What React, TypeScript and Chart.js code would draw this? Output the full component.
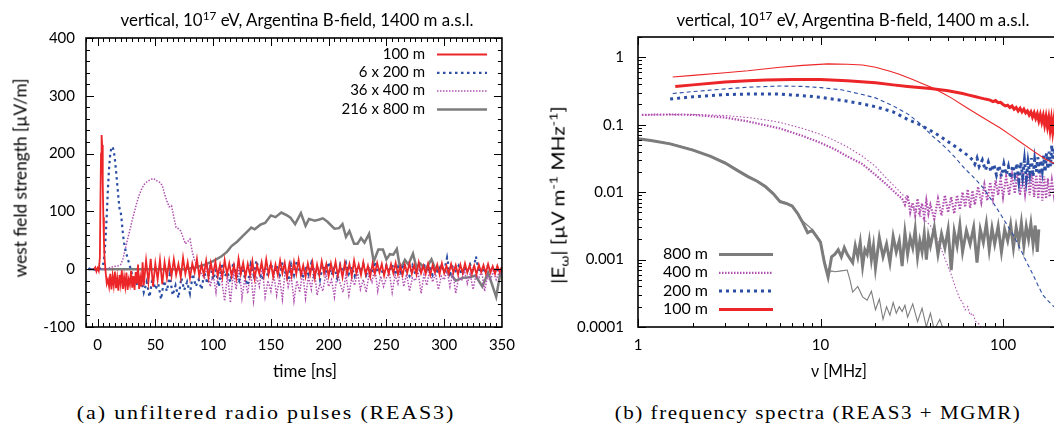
import React, { useEffect, useLayoutEffect, useRef } from "react";
import { Chart, registerables } from "chart.js";
Chart.register(...registerables);

const FONT = "Lato";
const RED = "#ec2628";
const BLUE = "#2c4fa5";
const MAGENTA = "#b050b0";
const GREY = "#7c7c7c";

// ---------------- panel (a): radio pulses ----------------
const timeTicks = [0, 50, 100, 150, 200, 250, 300, 350];
const fieldTicks = [-100, 0, 100, 200, 300, 400];
const pulseLabels = ["100 m", "6 x 200 m", "36 x 400 m", "216 x 800 m"];

const red100T = [-3, -2, -1, 0, 1, 2, 2.5, 3, 3.5, 4, 4.5, 5, 5.5, 6, 7, 8, 9,
  10, 11, 12, 13, 14, 15, 16, 17, 18, 19, 20, 21, 22, 23, 24, 25, 26, 27, 28, 29, 30, 31, 32, 33, 34, 35, 36, 37, 38, 39, 40,
  42, 44, 46, 48, 50, 52, 54, 56, 58, 60,
  62, 64, 66, 68, 70, 72, 74, 76, 78, 80, 82, 84, 86, 88, 90, 92, 94, 96, 98, 100,
  102, 104, 106, 108, 110, 112, 114, 116, 118, 120, 122, 124, 126, 128, 130, 132, 134, 136, 138, 140, 142, 144, 146, 148, 150,
  152, 154, 156, 158, 160, 162, 164, 166, 168, 170, 172, 174, 176, 178, 180, 182, 184, 186, 188, 190, 192, 194, 196, 198, 200,
  202, 204, 206, 208, 210, 212, 214, 216, 218, 220, 222, 224, 226, 228, 230, 232, 234, 236, 238, 240, 242, 244, 246, 248, 250,
  252, 254, 256, 258, 260, 262, 264, 266, 268, 270, 272, 274, 276, 278, 280, 282, 284, 286, 288, 290, 292, 294, 296, 298, 300,
  302, 304, 306, 308, 310, 312, 314, 316, 318, 320, 322, 324, 326, 328, 330, 332, 334, 336, 338, 340, 342, 344, 346, 348, 350];
const red100V = [0, 3, -4, 2, -3, 20, 120, 200, 232, 215, 150, 90, 50, 20, -5, -25, -18,
  -30, -8, -35, -12, -28, -4, -33, -15, -37, -10, -26, -2, -34, -14, -30, -6, -36, -18, -27, -3, -32, -12, -36, -5, -25, 8, -34, -15, -30, 12, -28,
  15, -22, 18, -30, 10, -18, 16, -26, 12, -15,
  14, -12, 17, -10, 9, -14, 20, -8, 12, -15, 10, -6, 18, -12, 8, -10, 15, -14, 11, -9,
  13, -11, 8, -14, 16, -9, 10, -12, 7, -15, 18, -8, 11, -13, 9, -10, 14, -16, 7, -8, 12, -11, 17, -9, 10,
  -13, 8, -10, 15, -7, 11, -14, 9, -12, 13, -8, 16, -10, 7, -13, 10, -9, 12, -15, 8, -11, 14, -7, 9, -12,
  10, -9, 13, -11, 7, -14, 11, -8, 9, -12, 15, -7, 8, -10, 12, -9, 6, -13, 10, -8, 11, -6, 9, -11, 7,
  -8, 9, -7, 11, -9, 6, -10, 8, -6, 10, -8, 7, -9, 12, -7, 6, -8, 9, -10, 7, -6, 8, -9, 10, -7,
  6, -8, 9, -6, 7, -9, 8, -7, 10, -6, 7, -8, 6, -9, 8, -5, 7, -7, 9, -6, 5, -8, 6, -5, 4];

// shared late-time sample grid (ns)
const lateT = [92.5, 95, 97.5, 100, 102.5, 105, 107.5, 110, 112.5, 115, 117.5, 120, 122.5, 125, 127.5, 130, 132.5, 135, 137.5, 140, 142.5, 145, 147.5, 150,
  152.5, 155, 157.5, 160, 162.5, 165, 167.5, 170, 172.5, 175, 177.5, 180, 182.5, 185, 187.5, 190, 192.5, 195, 197.5, 200,
  202.5, 205, 207.5, 210, 212.5, 215, 217.5, 220, 222.5, 225, 227.5, 230, 232.5, 235, 237.5, 240, 242.5, 245, 247.5, 250,
  252.5, 255, 257.5, 260, 262.5, 265, 267.5, 270, 272.5, 275, 277.5, 280, 282.5, 285, 287.5, 290, 292.5, 295, 297.5, 300,
  302.5, 305, 307.5, 310, 312.5, 315, 317.5, 320, 322.5, 325, 327.5, 330, 332.5, 335, 337.5, 340, 342.5, 345, 347.5, 350];

const blue200T = [-8, -7, -6, -5, -4, -3, -2, -1, 0, 1, 2, 3, 4, 5, 6, 7, 8, 9, 10, 11, 12, 13, 14, 15, 16, 17, 18, 19, 20,
  21, 22, 23, 24, 25, 26, 27, 28, 29, 30,
  32.5, 35, 37.5, 40, 42.5, 45, 47.5, 50, 52.5, 55, 57.5, 60, 62.5, 65, 67.5, 70, 72.5, 75, 77.5, 80, 82.5, 85, 87.5, 90,
  ...lateT];
const blue200V = [0, 1, -1, 0, 1, 0, -1, 0, 1, 0, 2, 3, 5,
  10, 25, 55, 95, 140, 175, 200, 210, 212, 205, 190, 170, 148, 125, 105, 100, 82, 60, 45, 35, 26, 20, 12, 5, -2, -10,
  -18, -30, -12, -40, -22, -48, -15, -35, -25, -52, -20, -38, -10, -45, -28, -50, -15, -36, -22, -42, -8, -30, -18, -35,
  -5, -25, 8, -18, -2, -30, 10, -12, -5, -22, 12, -8, -20, 5, -15, -28, 8, -10, 15, -6, -18, 3, -12, 10,
  -8, 6, -14, 12, -5, -20, 8, -10, 15, -4, -16, 5, -9, 10, -12, 4, -18, 7, -6, 12, -10, 3, -15, 8, -5, 11, -8, 4, -12, 6, -3, 9, -10, 5, -7, 13, -6, 2, -9, 7,
  -5, 8, -10, 4, -6, 10, -4, -12, 6, -8, 3, -5, 9, -7, 5, -10, 2, -6, 7, -4, 20, -8, 4, -3, 6, -9, 3, -5, 8, -4, 22, -6, 3, -7, 5, -2, 4, -6, 2, -3];

const mag400T = [-8, -6, -4, -2, 0, 2, 4, 6, 8, 10, 12, 14,
  16, 18, 20, 22, 24, 26, 28, 30, 32, 34, 36, 38, 40, 42, 44, 46, 48, 50, 52, 54, 56, 58, 60, 62, 64, 66, 68, 70, 72, 74, 76, 78, 80, 82, 84, 86, 88, 90,
  ...lateT];
const mag400V = [0, 1, 0, -1, 0, 1, 0, 0, 1, 2, 3, 5,
  5, 6, 8, 18, 35, 52, 68, 85, 100, 115, 128, 138, 146, 150, 153, 155, 157, 155, 152, 150, 145, 130, 118, 108, 110, 90, 72, 70, 66, 55, 44, 48, 52, 30, 15, 8, -2, -8,
  -15, 5, -30, -8, -40, 2, -20, -55, -10, -58, -5, -35, 8, -50, -15, -42, -3, -55, -12, -30, 5, -48, -20, -38,
  -8, -45, -15, -52, 0, -30, -10, -55, -20, -40, -5, -50, -12, -35, 3, -45, -25, -38, -8, -30, -18, -48, -5, -25, -40, -10, -45, -15, -28, -5, -35, -18, -40, -8, -22, 2, -38, -12, -30, -15,
  -5, -40, -10, -25, 2, -30, -8, -38, -15, -20, -5, -42, -10, -28, 0, -22, -8, -35, -12, -18, -3, -30, -6, -42, -14, -20, -2, -25, -8, -35, -10, -15, -4, -38, -12, -20, -3, -18, -6, -10];

const grey800T = [-8, 0, 20, 40, 60, 75, 85, 93, 100, 107, 112, 116, 121, 126, 130, 133, 136, 141, 145, 150,
  154, 159, 164, 167, 171, 176, 180, 183, 188, 192, 195, 199, 205, 209, 212, 215, 218, 222, 225, 228,
  231, 235, 239, 243, 247, 250, 253, 256, 259, 262, 266, 269, 273, 276, 279, 284, 289, 293, 297, 300,
  306, 310, 316, 322, 327, 333, 338, 345, 349, 350];
const grey800V = [0, 0, 0, 0, 0, 0, 3, 8, 14, 22, 30, 40, 48, 58, 66, 72, 69, 77, 80, 93,
  90, 98, 93, 89, 78, 97, 75, 87, 84, 86, 88, 82, 70, 71, 78, 56, 66, 44, 44, 54,
  46, 61, 13, 34, 34, 17, 26, 25, 35, 0, 16, 8, 27, 3, 10, 0, 17, -3, 5, -2,
  -9, -20, -15, -14, -11, -30, -6, -48, -2, -5];

// ---------------- panel (b): frequency spectra ----------------
const freqTicks = [1, 10, 100];
const freqTickLabels = ["1", "10", "100"];
const specTicks = [0.0001, 0.001, 0.01, 0.1, 1];
const specTickLabels = ["0.0001", "0.001", "0.01", "0.1", "1"];

const reas100F = [1.6, 2, 3, 4, 5, 7, 10, 14, 20, 25, 30, 40, 50, 60, 65, 70, 75, 80, 85, 88, 91, 94, 97, 100, 103, 106, 109, 112, 115, 118,
  121, 124, 127, 130, 133, 136, 139, 142, 145, 148, 151, 154, 157, 160, 163, 166, 169, 172, 175, 178, 181, 184, 187, 190, 193, 196, 199];
const reas100V = [0.37, 0.39, 0.43, 0.45, 0.46, 0.47, 0.47, 0.45, 0.42, 0.39, 0.37, 0.345, 0.32, 0.29, 0.275, 0.262, 0.25, 0.24, 0.232, 0.22,
  0.228, 0.212, 0.215, 0.2, 0.19, 0.195, 0.18, 0.19, 0.17, 0.18, 0.16, 0.175, 0.155, 0.17, 0.15, 0.16, 0.14, 0.155, 0.13, 0.15,
  0.125, 0.145, 0.115, 0.14, 0.11, 0.135, 0.1, 0.13, 0.095, 0.125, 0.085, 0.12, 0.08, 0.115, 0.07, 0.105, 0.085];
const mgmr100F = [1.55, 2, 3, 4, 6, 8, 11, 14, 17, 20, 24, 27, 32, 36, 41, 46, 52, 63, 75, 85, 96, 110, 125, 146, 170, 200];
const mgmr100V = [0.51, 0.54, 0.59, 0.63, 0.71, 0.76, 0.8, 0.79, 0.77, 0.71, 0.62, 0.56, 0.47, 0.41, 0.355, 0.3, 0.25, 0.18, 0.135, 0.11, 0.09, 0.07, 0.055, 0.041, 0.031, 0.025];

const reas200F = [1.5, 2, 3, 4, 6, 8, 10, 13, 16, 20, 25, 30, 35, 40, 45, 50, 55, 60, 65, 68, 70, 72, 74, 77, 80, 83, 86, 89, 92, 95,
  98, 101, 104, 107, 110, 113, 116, 119, 122, 125, 128, 131, 134, 137, 140, 143, 146, 149, 152, 155, 158, 161, 164, 167, 170, 173, 176, 179, 182, 185,
  188, 191, 194, 197, 200];
const reas200V = [0.24, 0.26, 0.28, 0.285, 0.285, 0.27, 0.255, 0.23, 0.21, 0.185, 0.155, 0.12, 0.1, 0.082, 0.068, 0.056, 0.047, 0.04, 0.034, 0.03,
  0.026, 0.032, 0.024, 0.03, 0.021, 0.028, 0.02, 0.026, 0.018, 0.025, 0.017, 0.026, 0.018, 0.024, 0.016, 0.025, 0.018, 0.027, 0.015, 0.028,
  0.017, 0.03, 0.016, 0.028, 0.019, 0.032, 0.017, 0.03, 0.02, 0.033, 0.018, 0.03, 0.021, 0.035, 0.02, 0.038, 0.022, 0.04, 0.024, 0.05,
  0.026, 0.045, 0.028, 0.05, 0.03];
const mgmr200F = [1.55, 2, 3, 4, 6, 8, 10, 13, 17, 20, 25, 30, 35, 41, 45, 50, 55, 62, 70, 78, 86, 96, 105, 115, 125, 135, 145, 155, 165, 175, 190, 200];
const mgmr200V = [0.29, 0.31, 0.34, 0.36, 0.375, 0.37, 0.355, 0.33, 0.28, 0.25, 0.19, 0.145, 0.105, 0.068, 0.055, 0.042, 0.032, 0.022, 0.016, 0.0115,
  0.0078, 0.0049, 0.0033, 0.0022, 0.0014, 0.0009, 0.00062, 0.00042, 0.0003, 0.00025, 0.0002, 0.00018];

const reas400F = [1.05, 1.5, 2, 3, 4, 5, 6, 8, 10, 12, 14, 17, 20, 23, 26, 28, 29, 30, 31, 32, 33, 34, 35, 36, 37, 38, 39, 40, 42, 44,
  46, 48, 50, 52, 54, 56, 58, 60, 62, 64, 66, 68, 70, 73, 76, 79, 82, 85, 88, 91, 94, 97, 100, 104, 108, 112, 116, 120, 124, 128,
  132, 136, 140, 144, 148, 152, 156, 160, 164, 168, 172, 176, 180, 185, 190, 195, 200];
const reas400V = [0.14, 0.142, 0.14, 0.128, 0.112, 0.098, 0.088, 0.068, 0.054, 0.043, 0.034, 0.026, 0.018, 0.013, 0.0095, 0.008, 0.0065, 0.009, 0.005, 0.007,
  0.0045, 0.008, 0.005, 0.0068, 0.0042, 0.0075, 0.0048, 0.0065, 0.004, 0.008, 0.0045, 0.009, 0.005, 0.0085, 0.0048, 0.009, 0.0055, 0.01, 0.006, 0.011,
  0.0058, 0.0105, 0.0065, 0.012, 0.007, 0.013, 0.0075, 0.014, 0.008, 0.015, 0.009, 0.016, 0.0085, 0.017, 0.009, 0.018, 0.0095, 0.019, 0.009, 0.02,
  0.0095, 0.019, 0.009, 0.02, 0.0085, 0.018, 0.008, 0.019, 0.0075, 0.017, 0.008, 0.016, 0.0085, 0.015, 0.009, 0.016, 0.01];
const mgmr400F = [1.05, 2, 3, 4, 5, 6, 8, 10, 12, 14, 17, 20, 23, 26, 29, 32, 36, 40, 43, 46, 49, 52, 55, 58, 60, 62, 64, 66, 68, 71, 74, 77];
const mgmr400V = [0.14, 0.142, 0.137, 0.128, 0.118, 0.108, 0.088, 0.072, 0.058, 0.047, 0.034, 0.024, 0.016, 0.0115, 0.0085, 0.006, 0.0042, 0.0032, 0.0022, 0.0014,
  0.0009, 0.0006, 0.00038, 0.00026, 0.00023, 0.00018, 0.0002, 0.00015, 0.00016, 0.00012, 0.00011, 0.00009];

const reas800F = [1, 1.2, 1.5, 2, 2.5, 3, 3.5, 4, 4.5, 5, 5.5, 6, 6.5, 7, 7.5, 8, 8.5, 9, 9.5, 10,
  10.5, 11, 11.5, 12, 12.5, 13, 13.5, 14, 15, 15.5, 16, 16.5, 17, 17.5, 18, 18.5, 19, 19.5, 20, 21,
  22, 23, 24, 25, 26, 27, 28, 29, 30, 31, 32, 33, 34, 35, 36, 37, 38, 39, 40, 42,
  44, 46, 48, 50, 52, 54, 56, 58, 60, 63, 66, 69, 72, 75, 78, 81, 84, 87, 90, 94,
  98, 102, 106, 110, 114, 118, 122, 126, 130, 134, 138, 142, 146, 150, 154, 157];
const reas800V = [0.062, 0.058, 0.052, 0.042, 0.034, 0.027, 0.021, 0.017, 0.0145, 0.012, 0.0095, 0.0072, 0.0068, 0.0062, 0.0048, 0.0035, 0.0025, 0.0027, 0.0022, 0.0018,
  0.0009, 0.00055, 0.0011, 0.0012, 0.0014, 0.0011, 0.0015, 0.0012, 0.0009, 0.0016, 0.0011, 0.0018, 0.0008, 0.0014, 0.0012, 0.0019, 0.001, 0.0016, 0.00075, 0.0021,
  0.0011, 0.0017, 0.0009, 0.0022, 0.0013, 0.0019, 0.0008, 0.0025, 0.0012, 0.0021, 0.0015, 0.0028, 0.0011, 0.0019, 0.0013, 0.0024, 0.001, 0.0022, 0.0016, 0.003,
  0.0012, 0.0024, 0.0015, 0.0028, 0.0007, 0.0026, 0.0016, 0.0032, 0.0013, 0.0027, 0.0017, 0.003, 0.0009, 0.0028, 0.0018, 0.0034, 0.0014, 0.0029, 0.0017, 0.0031,
  0.0013, 0.0028, 0.0019, 0.0033, 0.0015, 0.003, 0.0018, 0.0035, 0.0016, 0.0031, 0.002, 0.0034, 0.0017, 0.0032, 0.0013, 0.0028];
const mgmr800F = [1, 1.5, 2, 3, 4, 5, 6, 7, 8, 9, 10, 10.5, 11, 11.5, 12, 13, 14, 14.5, 15, 16,
  17, 18, 19, 20, 21, 22, 23, 24, 25, 26, 27, 28, 29, 30, 32, 34, 36, 38, 40, 42, 45, 48, 52];
const mgmr800V = [0.063, 0.053, 0.043, 0.028, 0.0175, 0.0125, 0.0075, 0.0064, 0.0037, 0.0028, 0.0019, 0.001, 0.00062, 0.00068, 0.00066, 0.00068, 0.0007, 0.0005, 0.00033, 0.0004,
  0.00028, 0.00025, 0.00034, 0.00018, 0.00026, 0.00013, 0.0002, 0.00015, 0.00023, 0.00016, 0.0002, 0.00017, 0.00021, 0.00014, 0.00022, 0.00012, 0.00019, 0.0001, 0.00016, 0.00009,
  0.00013, 0.00008, 0.00007];
const specLabels = ["100 m", "200 m", "400 m", "800 m"];

// ---------------- helpers ----------------
const pts = (xs: number[], ys: number[]) => xs.map((x, i) => ({ x, y: ys[i] }));

function line(label: string, data: any[], color: string, width: number, dash: number[] = []) {
  return {
    label, data, borderColor: color, backgroundColor: color, borderWidth: width, borderDash: dash,
    pointRadius: 0, tension: 0, fill: false, clip: 0, borderCapStyle: "butt", borderJoinStyle: "miter",
  };
}

function framePlugin(xMajor: number[], xMinor: number[], yMajor: number[], yMinor: number[]) {
  return {
    id: "frameTicks",
    afterDatasetsDraw(chart: any) {
      const { ctx, chartArea: a, scales } = chart;
      const xs = scales.x, ys = scales.y;
      ctx.save();
      ctx.setLineDash([]);
      ctx.strokeStyle = "#000";
      ctx.lineWidth = 1;
      ctx.beginPath();
      const vx = (v: number, len: number) => {
        const p = Math.round(xs.getPixelForValue(v)) + 0.5;
        if (p < a.left - 0.5 || p > a.right + 0.5) return;
        ctx.moveTo(p, a.bottom); ctx.lineTo(p, a.bottom - len);
        ctx.moveTo(p, a.top); ctx.lineTo(p, a.top + len);
      };
      const hy = (v: number, len: number) => {
        const p = Math.round(ys.getPixelForValue(v)) + 0.5;
        if (p < a.top - 0.5 || p > a.bottom + 0.5) return;
        ctx.moveTo(a.left, p); ctx.lineTo(a.left + len, p);
        ctx.moveTo(a.right, p); ctx.lineTo(a.right - len, p);
      };
      xMinor.forEach((v) => vx(v, 4));
      xMajor.forEach((v) => vx(v, 8));
      yMinor.forEach((v) => hy(v, 4));
      yMajor.forEach((v) => hy(v, 8));
      ctx.stroke();
      ctx.lineWidth = 1.6;
      ctx.strokeRect(a.left, a.top, a.right - a.left, a.bottom - a.top);
      ctx.restore();
    },
  };
}

function legendPlugin(order: number[], fontSize: number, textX: number, align: CanvasTextAlign, y0: number, rowH: number, lx0: number, lx1: number) {
  return {
    id: "keyBox",
    afterDraw(chart: any) {
      const ctx = chart.ctx;
      ctx.save();
      ctx.font = `${fontSize}px ${FONT}`;
      ctx.textBaseline = "middle";
      order.forEach((di, i) => {
        const ds = chart.data.datasets[di];
        const y = y0 + i * rowH;
        ctx.fillStyle = "#000";
        ctx.textAlign = align;
        ctx.fillText(ds.label, textX, y);
        ctx.strokeStyle = ds.borderColor;
        ctx.lineWidth = ds.borderWidth;
        ctx.setLineDash(ds.borderDash || []);
        ctx.beginPath();
        ctx.moveTo(lx0, y + 0.5);
        ctx.lineTo(lx1, y + 0.5);
        ctx.stroke();
      });
      ctx.restore();
    },
  };
}

const tickFont = { family: FONT, size: 15 };

// text box centred at (cx, cy), stretched horizontally to a target width
function FitText(props: { cx: number; cy: number; width: number; size: number; family?: string; rotate?: boolean; spacing?: number; children: React.ReactNode }) {
  const ref = useRef<HTMLDivElement>(null);
  const rot = props.rotate ? "rotate(-90deg) " : "";
  useLayoutEffect(() => {
    const el = ref.current;
    if (!el) return;
    const natural = el.offsetWidth || 1;
    el.style.transform = `translate(-50%, -50%) ${rot}scaleX(${props.width / natural})`;
  });
  return (
    <div
      ref={ref}
      style={{
        position: "absolute", left: props.cx, top: props.cy, fontSize: props.size,
        fontFamily: props.family || FONT, lineHeight: `${Math.round(props.size * 1.25)}px`,
        letterSpacing: props.spacing ? `${props.spacing}px` : undefined,
        whiteSpace: "nowrap", color: "#000", transform: `translate(-50%, -50%) ${rot}`,
      }}
    >
      {props.children}
    </div>
  );
}

export default function App() {
  const leftRef = useRef<HTMLCanvasElement>(null);
  const rightRef = useRef<HTMLCanvasElement>(null);

  useEffect(() => {
    Chart.defaults.color = "#000";
    Chart.defaults.font.family = FONT;

    const xMinorA: number[] = [];
    for (let v = -10; v <= 350; v += 5) xMinorA.push(v);
    const yMinorA: number[] = [];
    for (let v = -100; v <= 400; v += 20) yMinorA.push(v);

    const left = new Chart(leftRef.current as HTMLCanvasElement, {
      type: "line",
      data: {
        datasets: [
          line(pulseLabels[0], pts(red100T, red100V), RED, 1.8),
          line(pulseLabels[1], pts(blue200T, blue200V), BLUE, 2.2, [2.5, 3.5]),
          line(pulseLabels[2], pts(mag400T, mag400V), MAGENTA, 1.5, [1.5, 1.5]),
          line(pulseLabels[3], pts(grey800T, grey800V), GREY, 2.5),
        ] as any,
      },
      options: {
        responsive: false,
        maintainAspectRatio: false,
        animation: false,
        events: [],
        layout: { padding: { top: 38, right: 17, left: 0, bottom: 0 } },
        plugins: { legend: { display: false }, tooltip: { enabled: false }, title: { display: false } },
        scales: {
          x: {
            type: "linear", min: -10, max: 350,
            grid: { display: false, drawTicks: false }, border: { display: false },
            ticks: { font: tickFont, color: "#000", padding: 9, maxRotation: 0, autoSkip: false },
            afterBuildTicks: (s: any) => { s.ticks = timeTicks.map((v) => ({ value: v })); },
            afterFit: (s: any) => { s.height = 53; },
          },
          y: {
            type: "linear", min: -100, max: 400,
            grid: { display: false, drawTicks: false }, border: { display: false },
            ticks: { font: tickFont, color: "#000", padding: 11, autoSkip: false },
            afterBuildTicks: (s: any) => { s.ticks = fieldTicks.map((v) => ({ value: v })); },
            afterFit: (s: any) => { s.width = 86; },
          },
        },
      } as any,
      plugins: [framePlugin(timeTicks, xMinorA, fieldTicks, yMinorA), legendPlugin([0, 1, 2, 3], 15, 425, "right", 54, 18.3, 437, 487)] as any,
    });

    const xMinorB: number[] = [];
    [1, 10, 100].forEach((d) => { for (let m = 2; m <= 9; m++) if (d * m <= 200) xMinorB.push(d * m); });
    const yMinorB: number[] = [];
    [0.0001, 0.001, 0.01, 0.1, 1].forEach((d) => { for (let m = 2; m <= 9; m++) if (d * m <= 2) yMinorB.push(d * m); });

    const right = new Chart(rightRef.current as HTMLCanvasElement, {
      type: "line",
      data: {
        datasets: [
          line(specLabels[0], pts(reas100F, reas100V), RED, 3),
          line(specLabels[0] + " (MGMR)", pts(mgmr100F, mgmr100V), RED, 1.1),
          line(specLabels[1], pts(reas200F, reas200V), BLUE, 3, [3, 4]),
          line(specLabels[1] + " (MGMR)", pts(mgmr200F, mgmr200V), BLUE, 1.1, [4, 3]),
          line(specLabels[3], pts(reas800F, reas800V), GREY, 3),
          line(specLabels[3] + " (MGMR)", pts(mgmr800F, mgmr800V), GREY, 1.1),
          line(specLabels[2], pts(reas400F, reas400V), MAGENTA, 2.2, [1.5, 1.5]),
          line(specLabels[2] + " (MGMR)", pts(mgmr400F, mgmr400V), MAGENTA, 1.1, [1.5, 2]),
        ] as any,
      },
      options: {
        responsive: false,
        maintainAspectRatio: false,
        animation: false,
        events: [],
        layout: { padding: { top: 37, right: 6, left: 0, bottom: 0 } },
        plugins: { legend: { display: false }, tooltip: { enabled: false }, title: { display: false } },
        scales: {
          x: {
            type: "logarithmic", min: 1, max: 200,
            grid: { display: false, drawTicks: false }, border: { display: false },
            ticks: { font: tickFont, color: "#000", padding: 9, maxRotation: 0, autoSkip: false,
              callback: (_v: any, i: number) => freqTickLabels[i] },
            afterBuildTicks: (s: any) => { s.ticks = freqTicks.map((v) => ({ value: v })); },
            afterFit: (s: any) => { s.height = 53; },
          },
          y: {
            type: "logarithmic", min: 0.0001, max: 2,
            grid: { display: false, drawTicks: false }, border: { display: false },
            ticks: { font: tickFont, color: "#000", padding: 14, autoSkip: false,
              callback: (_v: any, i: number) => specTickLabels[i] },
            afterBuildTicks: (s: any) => { s.ticks = specTicks.map((v) => ({ value: v })); },
            afterFit: (s: any) => { s.width = 114; },
          },
        },
      } as any,
      plugins: [framePlugin(freqTicks, xMinorB, specTicks, yMinorB), legendPlugin([4, 6, 2, 0], 16, 184, "right", 254, 18.3, 195, 249)] as any,
    });

    return () => { left.destroy(); right.destroy(); };
  }, []);

  const sup: React.CSSProperties = { fontSize: "0.7em", position: "relative", top: "-0.55em", lineHeight: 0 };
  const sub: React.CSSProperties = { fontSize: "0.7em", position: "relative", top: "0.3em", lineHeight: 0 };
  const SERIF = "'Liberation Serif', serif";
  const titleText = (
    <>vertical, 10<span style={sup}>17</span> eV, Argentina B-field, 1400 m a.s.l.</>
  );

  return (
    <div style={{ position: "absolute", left: 0, top: 0, width: 1054, height: 425, overflow: "hidden", background: "#fff" }}>
      <canvas ref={leftRef} width={524} height={380} style={{ position: "absolute", left: 0, top: 0, width: 524, height: 380 }} />
      <canvas ref={rightRef} width={540} height={380} style={{ position: "absolute", left: 524, top: 0, width: 540, height: 380 }} />

      <FitText cx={296.5} cy={20} width={353} size={16.7}>{titleText}</FitText>
      <FitText cx={852.5} cy={20} width={353} size={16.7}>{titleText}</FitText>

      <FitText cx={20} cy={177.5} width={199} size={17} rotate>west field strength [µV/m]</FitText>
      <FitText cx={558} cy={195} width={178} size={17} rotate>
        |E<span style={sub}>ω</span>| [µV m<span style={sup}>-1</span> MHz<span style={sup}>-1</span>]
      </FitText>

      <FitText cx={305} cy={370} width={64} size={17}>time [ns]</FitText>
      <FitText cx={839} cy={370} width={56} size={17}>ν [MHz]</FitText>

      <FitText cx={266} cy={413} width={378} size={19} spacing={1.6} family={SERIF}>(a) unfiltered radio pulses (REAS3)</FitText>
      <FitText cx={817.5} cy={413} width={407} size={19} spacing={1.4} family={SERIF}>(b) frequency spectra (REAS3 + MGMR)</FitText>
    </div>
  );
}
